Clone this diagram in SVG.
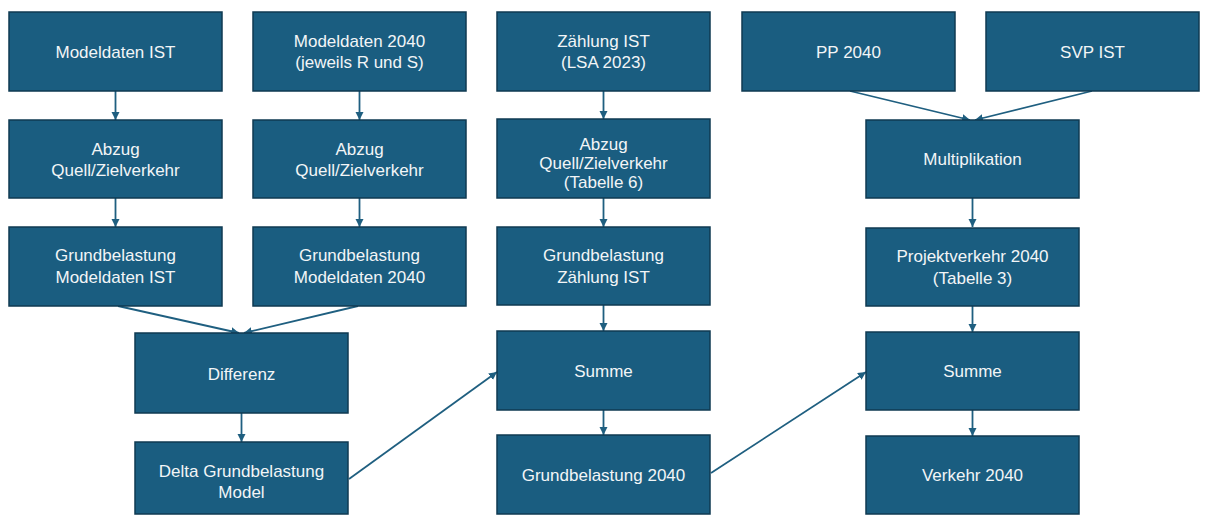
<svg xmlns="http://www.w3.org/2000/svg" width="1206" height="515" viewBox="0 0 1206 515">
<style>
.box{fill:#1a5d80;stroke:#0f3a52;stroke-width:1.5}
.t{font-family:"Liberation Sans",Arial,sans-serif;font-size:17px;fill:#f2f5f7;text-anchor:middle}
.c{stroke:#1f5f80;stroke-width:1.8;fill:none;marker-end:url(#ah)}
</style>
<defs>
<marker id="ah" markerUnits="userSpaceOnUse" markerWidth="9" markerHeight="9" refX="8" refY="4" orient="auto">
<path d="M0,0 L8,4 L0,8 z" fill="#1f5f80"/>
</marker>
</defs>
<rect width="1206" height="515" fill="#ffffff"/>
<g id="connectors">
<line class="c" x1="115.5" y1="91" x2="115.5" y2="120"/>
<line class="c" x1="115.5" y1="198" x2="115.5" y2="227"/>
<line class="c" x1="359.5" y1="91" x2="359.5" y2="120"/>
<line class="c" x1="359.5" y1="198" x2="359.5" y2="227"/>
<line class="c" x1="603.5" y1="91" x2="603.5" y2="119"/>
<line class="c" x1="603.5" y1="198" x2="603.5" y2="227"/>
<line class="c" x1="603.5" y1="305" x2="603.5" y2="331"/>
<line class="c" x1="603.5" y1="410" x2="603.5" y2="435"/>
<line class="c" x1="118" y1="306" x2="239" y2="333"/>
<line class="c" x1="358" y1="306" x2="244" y2="333"/>
<line class="c" x1="241.5" y1="413" x2="241.5" y2="442"/>
<line class="c" x1="349" y1="479" x2="497" y2="372"/>
<line class="c" x1="711" y1="473" x2="866" y2="372"/>
<line class="c" x1="850" y1="91" x2="970" y2="120"/>
<line class="c" x1="1092" y1="91" x2="975" y2="120"/>
<line class="c" x1="972.5" y1="198" x2="972.5" y2="227"/>
<line class="c" x1="972.5" y1="306" x2="972.5" y2="332"/>
<line class="c" x1="972.5" y1="410" x2="972.5" y2="436"/>
</g>
<g id="n_modeldaten_ist"><rect class="box" x="9" y="12" width="213" height="79"/><text class="t" x="115.5" y="58">Modeldaten IST</text></g>
<g id="n_modeldaten_2040"><rect class="box" x="253" y="12" width="213" height="79"/><text class="t" x="359.5" y="47">Modeldaten 2040</text><text class="t" x="359.5" y="68">(jeweils R und S)</text></g>
<g id="n_zaehlung_ist"><rect class="box" x="497" y="12" width="213" height="79"/><text class="t" x="603.5" y="47">Zählung IST</text><text class="t" x="603.5" y="68">(LSA 2023)</text></g>
<g id="n_pp_2040"><rect class="box" x="742" y="12" width="213" height="79"/><text class="t" x="848.5" y="58">PP 2040</text></g>
<g id="n_svp_ist"><rect class="box" x="986" y="12" width="213" height="79"/><text class="t" x="1092.5" y="58">SVP IST</text></g>
<g id="n_abzug_1"><rect class="box" x="9" y="120" width="213" height="78"/><text class="t" x="115.5" y="155">Abzug</text><text class="t" x="115.5" y="176">Quell/Zielverkehr</text></g>
<g id="n_abzug_2"><rect class="box" x="253" y="120" width="213" height="78"/><text class="t" x="359.5" y="155">Abzug</text><text class="t" x="359.5" y="176">Quell/Zielverkehr</text></g>
<g id="n_abzug_3"><rect class="box" x="497" y="119" width="213" height="79"/><text class="t" x="603.5" y="150">Abzug</text><text class="t" x="603.5" y="169">Quell/Zielverkehr</text><text class="t" x="603.5" y="188">(Tabelle 6)</text></g>
<g id="n_multiplikation"><rect class="box" x="866" y="120" width="213" height="78"/><text class="t" x="972.5" y="165">Multiplikation</text></g>
<g id="n_grund_modeldaten_ist"><rect class="box" x="9" y="227" width="213" height="79"/><text class="t" x="115.5" y="261">Grundbelastung</text><text class="t" x="115.5" y="283">Modeldaten IST</text></g>
<g id="n_grund_modeldaten_2040"><rect class="box" x="253" y="227" width="213" height="79"/><text class="t" x="359.5" y="261">Grundbelastung</text><text class="t" x="359.5" y="283">Modeldaten 2040</text></g>
<g id="n_grund_zaehlung_ist"><rect class="box" x="497" y="227" width="213" height="78"/><text class="t" x="603.5" y="261">Grundbelastung</text><text class="t" x="603.5" y="283">Zählung IST</text></g>
<g id="n_projektverkehr"><rect class="box" x="866" y="228" width="213" height="78"/><text class="t" x="972.5" y="262">Projektverkehr 2040</text><text class="t" x="972.5" y="284">(Tabelle 3)</text></g>
<g id="n_differenz"><rect class="box" x="135" y="333" width="213" height="80"/><text class="t" x="241.5" y="380">Differenz</text></g>
<g id="n_summe_1"><rect class="box" x="497" y="331" width="213" height="79"/><text class="t" x="603.5" y="377">Summe</text></g>
<g id="n_summe_2"><rect class="box" x="866" y="332" width="213" height="78"/><text class="t" x="972.5" y="377">Summe</text></g>
<g id="n_delta"><rect class="box" x="135" y="442" width="213" height="72"/><text class="t" x="241.5" y="477">Delta Grundbelastung</text><text class="t" x="241.5" y="498">Model</text></g>
<g id="n_grundbelastung_2040"><rect class="box" x="497" y="435" width="213" height="79"/><text class="t" x="603.5" y="481">Grundbelastung 2040</text></g>
<g id="n_verkehr_2040"><rect class="box" x="866" y="436" width="213" height="78"/><text class="t" x="972.5" y="481">Verkehr 2040</text></g>
</svg>
